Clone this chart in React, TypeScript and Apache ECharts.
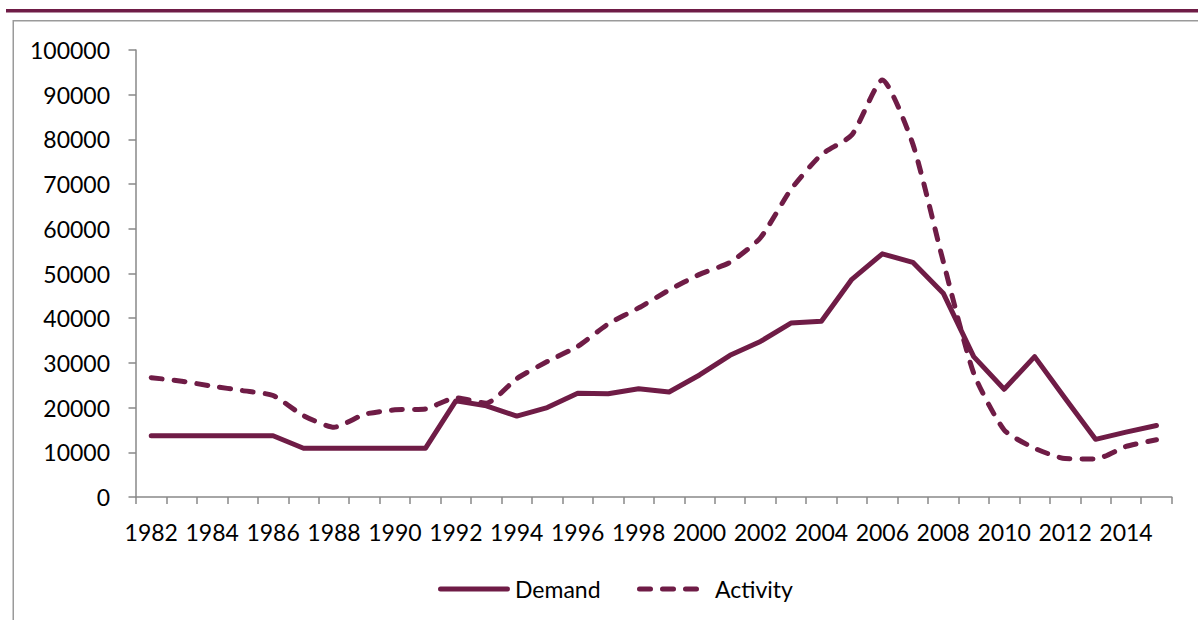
import React, { useEffect, useRef } from "react";
import * as echarts from "echarts";

const years: string[] = [
  "1982", "1983", "1984", "1985", "1986", "1987", "1988", "1989", "1990", "1991",
  "1992", "1993", "1994", "1995", "1996", "1997", "1998", "1999", "2000", "2001",
  "2002", "2003", "2004", "2005", "2006", "2007", "2008", "2009", "2010", "2011",
  "2012", "2013", "2014", "2015",
];

const demand: number[] = [
  13700, 13700, 13700, 13700, 13700, 10900, 10900, 10900, 10900, 10900,
  21500, 20400, 18100, 20000, 23200, 23100, 24200, 23500, 27300, 31700,
  34800, 38900, 39300, 48700, 54400, 52500, 45600, 31400, 24100, 31400,
  22100, 12900, 14500, 16000,
];

const activity: number[] = [
  26700, 25900, 24800, 23800, 22700, 18200, 15600, 18500, 19500, 19700,
  22200, 21000, 26500, 30300, 33700, 38700, 42300, 46300, 49800, 52500,
  58000, 68800, 76600, 81000, 93300, 79000, 52700, 27700, 15000, 10900,
  8600, 8500, 11300, 12800,
];

const seriesNames: string[] = ["Demand", "Activity"];

const yTicks = { min: 0, max: 100000, interval: 10000 };

const COLOR = "#6f1c46";
const AXIS = "#898989";
const FONT = "Lato, 'Open Sans', sans-serif";
const FS = 23;
const DASH = [11, 12];

export default function App() {
  const ref = useRef<HTMLDivElement>(null);

  useEffect(() => {
    if (!ref.current) return;
    const chart = echarts.init(ref.current, undefined, { renderer: "svg" });
    const legendY = 589;
    chart.setOption({
      animation: false,
      backgroundColor: "#ffffff",
      textStyle: { fontFamily: FONT },
      graphic: [
        { type: "rect", shape: { x: 6, y: 9, width: 1192, height: 3.5 }, style: { fill: COLOR } },
        { type: "rect", shape: { x: 13, y: 20, width: 1185, height: 1.5 }, style: { fill: "#9a9a9a" } },
        { type: "rect", shape: { x: 12.5, y: 20, width: 1.5, height: 600 }, style: { fill: "#9a9a9a" } },
        {
          type: "line",
          shape: { x1: 440.5, y1: legendY, x2: 507.5, y2: legendY },
          style: { stroke: COLOR, lineWidth: 5, lineCap: "round" },
        },
        {
          type: "text",
          x: 515,
          y: legendY,
          style: { text: seriesNames[0], fontSize: FS, fontFamily: FONT, fill: "#000", verticalAlign: "middle", align: "left" },
        },
        {
          type: "line",
          shape: { x1: 639.5, y1: legendY, x2: 697, y2: legendY },
          style: { stroke: COLOR, lineWidth: 5, lineCap: "round", lineDash: DASH },
        },
        {
          type: "text",
          x: 715,
          y: legendY,
          style: { text: seriesNames[1], fontSize: FS, fontFamily: FONT, fill: "#000", verticalAlign: "middle", align: "left" },
        },
      ],
      grid: { left: 136, right: 26.3, top: 50, bottom: 124, containLabel: false },
      xAxis: {
        type: "category",
        data: years,
        boundaryGap: true,
        axisLine: { lineStyle: { color: AXIS, width: 1.5 } },
        axisTick: { show: true, inside: false, length: 7, interval: 0, lineStyle: { color: AXIS, width: 1.5 } },
        axisLabel: { interval: 1, margin: 23, fontSize: FS, color: "#000", fontFamily: FONT },
        splitLine: { show: false },
      },
      yAxis: {
        type: "value",
        min: yTicks.min,
        max: yTicks.max,
        interval: yTicks.interval,
        axisLine: { show: true, lineStyle: { color: AXIS, width: 1.5 } },
        axisTick: { show: true, inside: false, length: 7.5, lineStyle: { color: AXIS, width: 1.5 } },
        axisLabel: {
          margin: 26,
          fontSize: FS,
          color: "#000",
          fontFamily: FONT,
          formatter: (v: number) => String(v),
        },
        splitLine: { show: false },
      },
      series: [
        {
          name: seriesNames[0],
          type: "line",
          data: demand,
          symbol: "none",
          lineStyle: { color: COLOR, width: 5, cap: "round", join: "round" },
          itemStyle: { color: COLOR },
        },
        {
          name: seriesNames[1],
          type: "line",
          data: activity,
          symbol: "none",
          smooth: 0.2,
          lineStyle: { color: COLOR, width: 5, type: DASH, cap: "round", join: "round" },
          itemStyle: { color: COLOR },
        },
      ],
    });
    return () => chart.dispose();
  }, []);

  return (
    <div
      ref={ref}
      style={{ position: "fixed", left: 0, top: 0, width: 1198, height: 621, background: "#fff" }}
    />
  );
}
